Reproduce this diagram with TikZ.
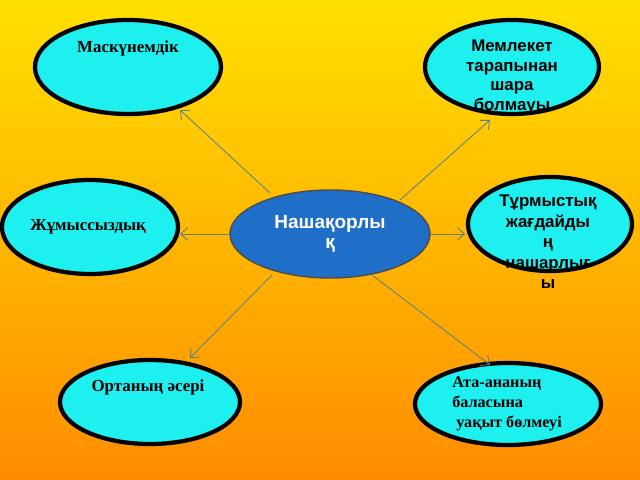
\documentclass[tikz,border=0pt]{standalone}
\usepackage{fontspec}
\setmainfont{Liberation Serif}
\newfontfamily\sansf{Liberation Sans}
\usetikzlibrary{arrows.meta}
\definecolor{cy}{HTML}{1EF0F0}
\definecolor{cblue}{HTML}{1F6FC8}
\definecolor{arr}{HTML}{5C8090}
\begin{document}
\begin{tikzpicture}[x=0.025cm,y=-0.025cm,
  bub/.style={draw=black,line width=3pt,fill=cy},
  con/.style={draw=arr,line width=0.6pt,-{Straight Barb[length=5pt,width=9pt]}},
  lab/.style={font=\bfseries\fontsize{12}{15}\selectfont,align=center,inner sep=0pt},
  slab/.style={font=\sansf\bfseries\fontsize{12}{14}\selectfont,align=center,inner sep=0pt}]
\shade[top color={rgb,255:red,255;green,224;blue,0},bottom color={rgb,255:red,255;green,140;blue,0}] (0,0) rectangle (640,480);
\useasboundingbox (0,0) rectangle (640,480);
\draw[bub] (128,67) ellipse [x radius=93,y radius=47];
\draw[bub] (512,67) ellipse [x radius=87,y radius=47];
\draw[bub] (90,227) ellipse [x radius=88,y radius=47];
\draw[bub] (550,224) ellipse [x radius=82,y radius=47];
\draw[bub] (150,402) ellipse [x radius=90,y radius=42];
\draw[bub] (508,404) ellipse [x radius=93,y radius=41];
\draw[fill=cblue,draw=black!70,line width=1pt] (330,234) ellipse [x radius=100,y radius=44];
\coordinate (c1) at (270,193); \coordinate (e1) at (180,110);
\coordinate (c2) at (400,200); \coordinate (e2) at (490,120);
\coordinate (c3) at (230,234); \coordinate (e3) at (180,234);
\coordinate (c4) at (430,234); \coordinate (e4) at (465,234);
\coordinate (c5) at (272,275); \coordinate (e5) at (190,358);
\coordinate (c6) at (372,275); \coordinate (e6) at (490,365);
\draw[con] (c1) -- (e1); \draw[con] (c2) -- (e2); \draw[con] (c3) -- (e3);
\draw[con] (c4) -- (e4); \draw[con] (c5) -- (e5); \draw[con] (c6) -- (e6);
\node[lab] (t1) at (128,48) {Маскүнемдік};
\node[slab] (t2) at (512,77) {Мемлекет\\тарапынан\\шара\\болмауы};
\node[lab] (t3) at (88,227) {Жұмыссыздық};
\node[slab,font=\sansf\bfseries\fontsize{12}{14.6}\selectfont] (t4) at (548,242) {Тұрмыстық\\жағдайды\\ң\\нашарлығ\\ы};
\node[slab,text=white,font=\sansf\bfseries\fontsize{13.5}{14.5}\selectfont] (t0) at (330,234) {Нашақорлы\\қ};
\node[lab] (t5) at (148,387) {Ортаның әсері};
\node[lab,align=left,anchor=west,font=\bfseries\fontsize{11.5}{14.5}\selectfont] (t6) at (452,404) {Ата-ананың\\баласына\\\ уақыт бөлмеуі};
\end{tikzpicture}
\end{document}
